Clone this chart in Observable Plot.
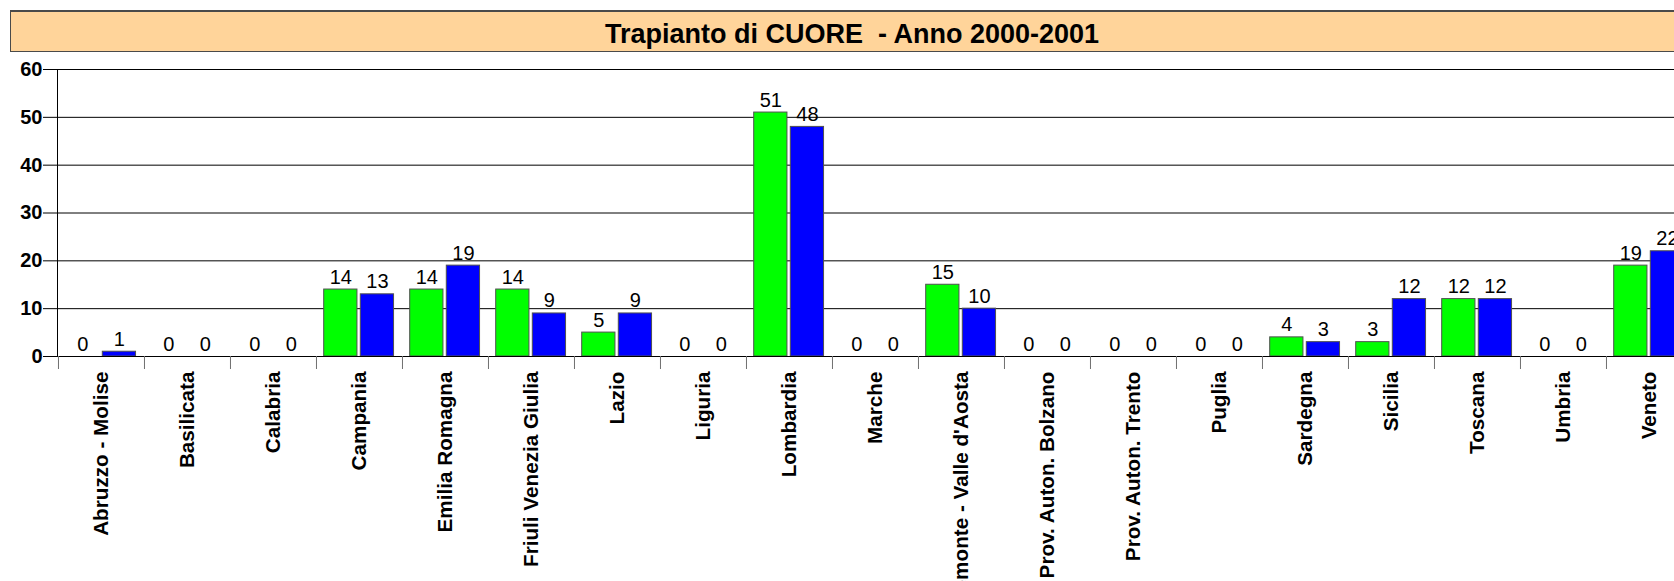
<!DOCTYPE html>
<html><head><meta charset="utf-8">
<script src="https://cdn.jsdelivr.net/npm/d3@7"></script>
<script src="https://cdn.jsdelivr.net/npm/@observablehq/plot@0.6"></script>
<style>
html,body{margin:0;padding:0;background:#fff;overflow:hidden;width:1674px;height:581px;}
#title{position:absolute;left:10px;top:10px;width:1682px;height:39px;background:#FFD49A;border:1px solid #4a4a4a;border-top-width:2px;font:bold 27px "Liberation Sans",Arial,sans-serif;white-space:pre;text-align:center;line-height:45px;color:#000;overflow:hidden;}
#chart{position:absolute;left:0;top:52px;width:1700px;}
#chart svg{max-width:none !important;}
</style></head><body>
<div id="title">Trapianto di CUORE  - Anno 2000-2001</div>
<div id="chart"></div>
<script>
const regions = ["Abruzzo - Molise","Basilicata","Calabria","Campania","Emilia Romagna","Friuli Venezia Giulia","Lazio","Liguria","Lombardia","Marche","Piemonte - Valle d'Aosta","Prov. Auton. Bolzano","Prov. Auton. Trento","Puglia","Sardegna","Sicilia","Toscana","Umbria","Veneto"];
const series = ["2000","2001"];
const values2000 = [0,0,0,14,14,14,5,0,51,0,15,0,0,0,4,3,12,0,19];
const values2001 = [1,0,0,13,19,9,9,0,48,0,10,0,0,0,3,12,12,0,22];
const yTicks = [0,10,20,30,40,50,60];
const colors = ["#00FF00","#0000FF"];

const data2000 = regions.map((r,i)=>({region:r, series:series[0], value:values2000[i]}));
const data2001 = regions.map((r,i)=>({region:r, series:series[1], value:values2001[i]}));

const width = 1692, marginLeft = 57, marginRight = 0;
const bw = (width - marginLeft - marginRight) / regions.length;
const pad = 7.7, barW = 33.3, gap = 3.3;
const greenInsetL = pad, greenInsetR = bw - pad - barW;
const blueInsetL = pad + barW + gap, blueInsetR = bw - pad - 2*barW - gap;
const greenDx = pad + barW/2 - bw/2;
const blueDx = pad + barW + gap + barW/2 - bw/2;
const font = "Liberation Sans, Arial, sans-serif";

const chart = Plot.plot({
  width, height: 529,
  marginLeft, marginRight, marginTop: 17, marginBottom: 225,
  style: {fontFamily: font, background: "white", color: "black", overflow: "visible", maxWidth: "none"},
  x: {domain: regions, padding: 0, label: null},
  y: {domain: [0, 60], label: null},
  marks: [
    Plot.gridY(yTicks, {stroke: "black", strokeOpacity: 1}),
    Plot.frame({anchor: "left", stroke: "black"}),
    Plot.barY(data2000, {x: "region", y: "value", fill: colors[0], stroke: "#505050", strokeWidth: 1, insetLeft: greenInsetL, insetRight: greenInsetR}),
    Plot.barY(data2001, {x: "region", y: "value", fill: colors[1], stroke: "#505050", strokeWidth: 1, insetLeft: blueInsetL, insetRight: blueInsetR}),
    Plot.ruleY([0], {stroke: "black"}),
    Plot.text(data2000, {x: "region", y: "value", text: d => String(d.value), dx: greenDx, dy: -6, lineAnchor: "bottom", fontSize: 20, fill: "black"}),
    Plot.text(data2001, {x: "region", y: "value", text: d => String(d.value), dx: blueDx, dy: -6, lineAnchor: "bottom", fontSize: 20, fill: "black"}),
    Plot.axisY({ticks: yTicks, tickSize: 14, tickPadding: 1, fontSize: 20, fontWeight: "bold", stroke: "black", fill: "black", label: null}),
    Plot.axisX({tickSize: 13, fill: "none", stroke: "#707070", dx: -bw/2, label: null}),
    Plot.axisX({tickSize: 0, tickPadding: 15, tickRotate: -90, fontSize: 20.7, fontWeight: "bold", fill: "black", label: null})
  ]
});
document.getElementById("chart").appendChild(chart);
</script>
</body></html>
